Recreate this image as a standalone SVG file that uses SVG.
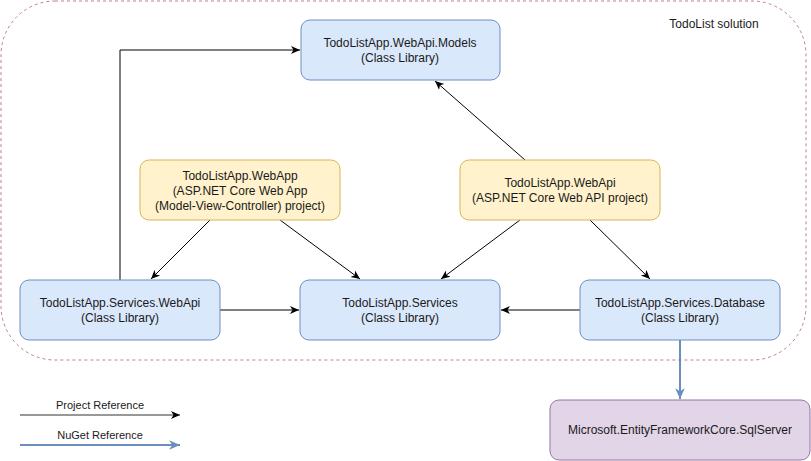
<svg xmlns="http://www.w3.org/2000/svg" width="811" height="461" viewBox="0 0 811 461">
<style>
text{font-family:"Liberation Sans",Arial,sans-serif;font-size:12px;fill:#1a1a1a;text-anchor:middle}
.blue{fill:#dae8fc;stroke:#6c8ebf;stroke-width:1}
.yel{fill:#fff2cc;stroke:#d6b656;stroke-width:1}
.pur{fill:#e1d5e7;stroke:#9673a6;stroke-width:1}
.c{fill:none;stroke:#000;stroke-width:1;marker-end:url(#a)}
.n{fill:none;stroke:#6c8ebf;stroke-width:2;marker-end:url(#b)}
</style>
<defs>
<marker id="a" viewBox="0 0 10 10" refX="9" refY="5" markerWidth="10" markerHeight="10" markerUnits="userSpaceOnUse" orient="auto">
<path d="M0,1 L9,5 L0,9 L2.5,5 Z" fill="#000"/>
</marker>
<marker id="b" viewBox="0 0 10 10" refX="9" refY="5" markerWidth="12" markerHeight="12" markerUnits="userSpaceOnUse" orient="auto">
<path d="M0,1 L9,5 L0,9 L2.5,5 Z" fill="#6c8ebf"/>
</marker>
</defs>
<g id="solution">
<rect x="1" y="1" width="805" height="359" rx="54" ry="54" fill="none" stroke="#c27ba0" stroke-width="1" stroke-dasharray="3,3"/>
<text x="714" y="28">TodoList solution</text>
</g>
<g id="connectors">
<path class="c" d="M120,280 V50 H300"/>
<path class="c" d="M525,160 L435,81"/>
<path class="c" d="M210,220 L151,279"/>
<path class="c" d="M280,220 L360,279"/>
<path class="c" d="M520,220 L441,279"/>
<path class="c" d="M590,220 L650,279"/>
<path class="c" d="M220,310 H299"/>
<path class="c" d="M580,310 H501"/>
<path class="n" d="M680,340 V399"/>
</g>
<g id="models">
<rect class="blue" x="301" y="20" width="199" height="60" rx="9"/>
<text x="400" y="47">TodoListApp.WebApi.Models</text>
<text x="400" y="62">(Class Library)</text>
</g>
<g id="webapp">
<rect class="yel" x="140" y="160" width="200" height="60" rx="9"/>
<text x="240" y="180">TodoListApp.WebApp</text>
<text x="240" y="195">(ASP.NET Core Web App</text>
<text x="240" y="210">(Model-View-Controller) project)</text>
</g>
<g id="webapi">
<rect class="yel" x="460" y="160" width="200" height="60" rx="9"/>
<text x="560" y="187">TodoListApp.WebApi</text>
<text x="560" y="202">(ASP.NET Core Web API project)</text>
</g>
<g id="serviceswebapi">
<rect class="blue" x="20" y="280" width="200" height="60" rx="9"/>
<text x="120" y="307">TodoListApp.Services.WebApi</text>
<text x="120" y="322">(Class Library)</text>
</g>
<g id="services">
<rect class="blue" x="300" y="280" width="200" height="60" rx="9"/>
<text x="400" y="307">TodoListApp.Services</text>
<text x="400" y="322">(Class Library)</text>
</g>
<g id="database">
<rect class="blue" x="580" y="280" width="200" height="60" rx="9"/>
<text x="680" y="307">TodoListApp.Services.Database</text>
<text x="680" y="322">(Class Library)</text>
</g>
<g id="sqlserver">
<rect class="pur" x="550" y="400" width="260" height="60" rx="9"/>
<text x="680" y="434">Microsoft.EntityFrameworkCore.SqlServer</text>
</g>
<g id="legend">
<text x="100" y="409" style="font-size:11px">Project Reference</text>
<path class="c" d="M20,415 H180" style="stroke:#333"/>
<text x="100" y="439" style="font-size:11px">NuGet Reference</text>
<path class="n" d="M20,445 H180"/>
</g>
</svg>
